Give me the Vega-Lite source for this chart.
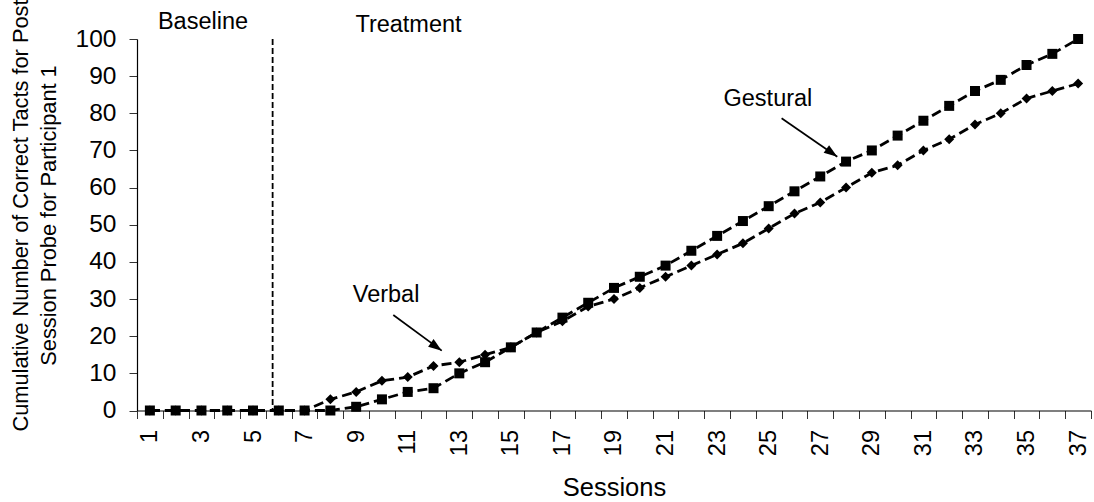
{
  "$schema": "https://vega.github.io/schema/vega-lite/v6.json",
  "width": 954,
  "height": 371.5,
  "autosize": {"type": "none"},
  "padding": {"left": 137, "top": 39, "right": 3, "bottom": 91.5},
  "background": "white",
  "config": {
    "view": {"stroke": null},
    "font": "Liberation Sans",
    "axis": {
      "grid": false,
      "domainColor": "black",
      "domainWidth": 1.2,
      "tickColor": "#333333",
      "tickWidth": 1,
      "labelColor": "black",
      "titleColor": "black",
      "labelFont": "Liberation Sans",
      "titleFont": "Liberation Sans",
      "titleFontWeight": "normal"
    }
  },
  "datasets": {
    "probe": [
      {"session": 1, "series": "Verbal", "count": 0},
      {"session": 2, "series": "Verbal", "count": 0},
      {"session": 3, "series": "Verbal", "count": 0},
      {"session": 4, "series": "Verbal", "count": 0},
      {"session": 5, "series": "Verbal", "count": 0},
      {"session": 6, "series": "Verbal", "count": 0},
      {"session": 7, "series": "Verbal", "count": 0},
      {"session": 8, "series": "Verbal", "count": 3},
      {"session": 9, "series": "Verbal", "count": 5},
      {"session": 10, "series": "Verbal", "count": 8},
      {"session": 11, "series": "Verbal", "count": 9},
      {"session": 12, "series": "Verbal", "count": 12},
      {"session": 13, "series": "Verbal", "count": 13},
      {"session": 14, "series": "Verbal", "count": 15},
      {"session": 15, "series": "Verbal", "count": 17},
      {"session": 16, "series": "Verbal", "count": 21},
      {"session": 17, "series": "Verbal", "count": 24},
      {"session": 18, "series": "Verbal", "count": 28},
      {"session": 19, "series": "Verbal", "count": 30},
      {"session": 20, "series": "Verbal", "count": 33},
      {"session": 21, "series": "Verbal", "count": 36},
      {"session": 22, "series": "Verbal", "count": 39},
      {"session": 23, "series": "Verbal", "count": 42},
      {"session": 24, "series": "Verbal", "count": 45},
      {"session": 25, "series": "Verbal", "count": 49},
      {"session": 26, "series": "Verbal", "count": 53},
      {"session": 27, "series": "Verbal", "count": 56},
      {"session": 28, "series": "Verbal", "count": 60},
      {"session": 29, "series": "Verbal", "count": 64},
      {"session": 30, "series": "Verbal", "count": 66},
      {"session": 31, "series": "Verbal", "count": 70},
      {"session": 32, "series": "Verbal", "count": 73},
      {"session": 33, "series": "Verbal", "count": 77},
      {"session": 34, "series": "Verbal", "count": 80},
      {"session": 35, "series": "Verbal", "count": 84},
      {"session": 36, "series": "Verbal", "count": 86},
      {"session": 37, "series": "Verbal", "count": 88},
      {"session": 1, "series": "Gestural", "count": 0},
      {"session": 2, "series": "Gestural", "count": 0},
      {"session": 3, "series": "Gestural", "count": 0},
      {"session": 4, "series": "Gestural", "count": 0},
      {"session": 5, "series": "Gestural", "count": 0},
      {"session": 6, "series": "Gestural", "count": 0},
      {"session": 7, "series": "Gestural", "count": 0},
      {"session": 8, "series": "Gestural", "count": 0},
      {"session": 9, "series": "Gestural", "count": 1},
      {"session": 10, "series": "Gestural", "count": 3},
      {"session": 11, "series": "Gestural", "count": 5},
      {"session": 12, "series": "Gestural", "count": 6},
      {"session": 13, "series": "Gestural", "count": 10},
      {"session": 14, "series": "Gestural", "count": 13},
      {"session": 15, "series": "Gestural", "count": 17},
      {"session": 16, "series": "Gestural", "count": 21},
      {"session": 17, "series": "Gestural", "count": 25},
      {"session": 18, "series": "Gestural", "count": 29},
      {"session": 19, "series": "Gestural", "count": 33},
      {"session": 20, "series": "Gestural", "count": 36},
      {"session": 21, "series": "Gestural", "count": 39},
      {"session": 22, "series": "Gestural", "count": 43},
      {"session": 23, "series": "Gestural", "count": 47},
      {"session": 24, "series": "Gestural", "count": 51},
      {"session": 25, "series": "Gestural", "count": 55},
      {"session": 26, "series": "Gestural", "count": 59},
      {"session": 27, "series": "Gestural", "count": 63},
      {"session": 28, "series": "Gestural", "count": 67},
      {"session": 29, "series": "Gestural", "count": 70},
      {"session": 30, "series": "Gestural", "count": 74},
      {"session": 31, "series": "Gestural", "count": 78},
      {"session": 32, "series": "Gestural", "count": 82},
      {"session": 33, "series": "Gestural", "count": 86},
      {"session": 34, "series": "Gestural", "count": 89},
      {"session": 35, "series": "Gestural", "count": 93},
      {"session": 36, "series": "Gestural", "count": 96},
      {"session": 37, "series": "Gestural", "count": 100}
    ],
    "phase": [
      {"session": 5.76, "count": 100, "bottom": 0}
    ],
    "labels": [
      {"session": 3.06, "count": 102.6, "text": "Baseline"},
      {"session": 11.03, "count": 102.0, "text": "Treatment"},
      {"session": 10.16, "count": 29.3, "text": "Verbal"},
      {"session": 24.97, "count": 82.0, "text": "Gestural"}
    ],
    "arrows": [
      {"session": 10.44, "count": 25.7, "session2": 12.32, "count2": 16.1},
      {"session": 25.5, "count": 78.65, "session2": 27.66, "count2": 68.3}
    ],
    "heads": [
      {"session": 12.32, "count": 16.1},
      {"session": 27.66, "count": 68.3}
    ]
  },
  "encoding": {
    "x": {
      "field": "session",
      "type": "quantitative",
      "scale": {"domain": [0.5, 37.5], "nice": false, "zero": false},
      "axis": {
        "values": [0.5, 1.5, 2.5, 3.5, 4.5, 5.5, 6.5, 7.5, 8.5, 9.5, 10.5, 11.5, 12.5, 13.5, 14.5, 15.5, 16.5, 17.5, 18.5, 19.5, 20.5, 21.5, 22.5, 23.5, 24.5, 25.5, 26.5, 27.5, 28.5, 29.5, 30.5, 31.5, 32.5, 33.5, 34.5, 35.5, 36.5, 37.5],
        "labelExpr": "datum.value % 2 == 0.5 ? '' + (datum.value + 0.5) : ''",
        "labelOffset": 12.89,
        "labelAngle": -90,
        "labelAlign": "right",
        "labelBaseline": "middle",
        "labelFontSize": 23.5,
        "labelPadding": 11,
        "labelOverlap": false,
        "labelBound": false,
        "labelFlush": false,
        "tickSize": 8,
        "title": "Sessions",
        "titleFontSize": 25.5,
        "titleX": 477,
        "titleY": 85,
        "titleAlign": "center",
        "titleBaseline": "alphabetic"
      }
    },
    "y": {
      "field": "count",
      "type": "quantitative",
      "scale": {"domain": [0, 100], "nice": false},
      "axis": {
        "values": [0, 10, 20, 30, 40, 50, 60, 70, 80, 90, 100],
        "tickSize": 8,
        "labelPadding": 13,
        "labelFontSize": 24.5,
        "labelFlush": false,
        "labelOverlap": false,
        "labelBound": false,
        "title": ["Cumulative Number of Correct Tacts for Post", "Session Probe for Participant 1"],
        "titleFontSize": 21.8,
        "titleAngle": -90,
        "titleX": -127,
        "titleY": 176,
        "titleAlign": "center",
        "titleBaseline": "top",
        "titleLineHeight": 28
      }
    }
  },
  "layer": [
    {
      "data": {"name": "probe"},
      "mark": {"type": "line", "color": "black", "strokeWidth": 2.8, "strokeDash": [10, 5]},
      "encoding": {
        "detail": {"field": "series", "type": "nominal"}
      }
    },
    {
      "data": {"name": "probe"},
      "mark": {"type": "point", "filled": true, "color": "black", "opacity": 1, "size": 100, "strokeWidth": 0},
      "encoding": {
        "shape": {
          "field": "series",
          "type": "nominal",
          "scale": {"domain": ["Gestural", "Verbal"], "range": ["square", "diamond"]},
          "legend": null
        }
      }
    },
    {
      "data": {"name": "phase"},
      "mark": {"type": "rule", "color": "black", "strokeWidth": 1.8, "strokeDash": [6, 3]},
      "encoding": {
        "y2": {"field": "bottom"}
      }
    },
    {
      "data": {"name": "arrows"},
      "mark": {"type": "rule", "color": "black", "strokeWidth": 1.7},
      "encoding": {
        "x2": {"field": "session2"},
        "y2": {"field": "count2"}
      }
    },
    {
      "data": {"name": "heads"},
      "mark": {"type": "point", "shape": "M0,0 L-2,-0.7 L-2,0.7 Z", "filled": true, "color": "black", "opacity": 1, "size": 180, "angle": 35.5, "strokeWidth": 0}
    },
    {
      "data": {"name": "labels"},
      "mark": {"type": "text", "font": "Liberation Sans", "fontSize": 23.5, "color": "black", "align": "center", "baseline": "alphabetic"},
      "encoding": {
        "text": {"field": "text", "type": "nominal"}
      }
    }
  ]
}
